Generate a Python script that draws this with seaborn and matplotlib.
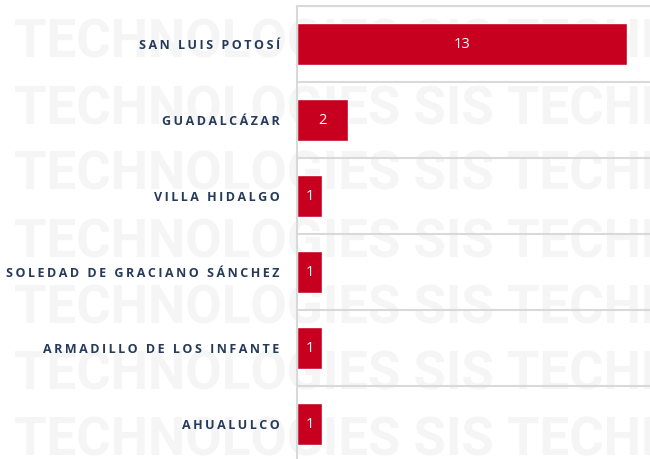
import matplotlib
matplotlib.use("Agg")
import matplotlib.pyplot as plt
import numpy as np
import seaborn as sns

municipios = ["SAN LUIS POTOSÍ", "GUADALCÁZAR", "VILLA HIDALGO",
              "SOLEDAD DE GRACIANO SÁNCHEZ", "ARMADILLO DE LOS INFANTE", "AHUALULCO"]
casos = [13, 2, 1, 1, 1, 1]

watermark = "TECHNOLOGIES SIS TECHNOLOGIES SIS"
wm_baselines = [58, 124, 190, 257, 324, 389, 456]  # px from top

sns.set_style("white")
plt.rcParams['font.family'] = ['Open Sans', 'DejaVu Sans']

W, H = 650, 459
fig = plt.figure(figsize=(6.5, 4.59), dpi=100)

# faint watermark behind everything
for b in wm_baselines:
    fig.text(14 / W, 1 - b / H, watermark, fontsize=38, fontweight='bold',
             family=['Roboto', 'DejaVu Sans'], color='#f5f5f5',
             va='baseline', ha='left', zorder=-1)

ax = fig.add_axes([297 / W, 1 - 462 / H, 1 - 297 / W, 456 / H])
ax.patch.set_alpha(0)

sns.barplot(x=casos, y=municipios, orient='h', color='#C8001F',
            width=0.55, saturation=1, ax=ax)

ax.bar_label(ax.containers[0], label_type='center', color='white', fontsize=10.5)

ax.set_xlim(0, 13.92)
ax.set_ylim(5.5, -0.5)
ax.set_xticks([])
ax.set_xlabel("")
ax.set_ylabel("")
# spaced-out capitals like the reference (thin space between letters)
ax.set_yticks(range(len(municipios)))
ax.set_yticklabels(["\u2009".join(m) for m in municipios],
                   fontweight='bold', fontsize=9, color='#263A5A')
ax.set_yticks(np.arange(-0.5, 6, 1), minor=True)
ax.grid(which='minor', axis='y', color='#d9d9d9', lw=1.5)
ax.tick_params(axis='y', which='both', length=0, pad=12.5)

for s in ['right', 'bottom']:
    ax.spines[s].set_visible(False)
for s in ['left', 'top']:
    ax.spines[s].set_color('#d9d9d9')
    ax.spines[s].set_linewidth(1.5)

fig.savefig("out.png", dpi=100)
